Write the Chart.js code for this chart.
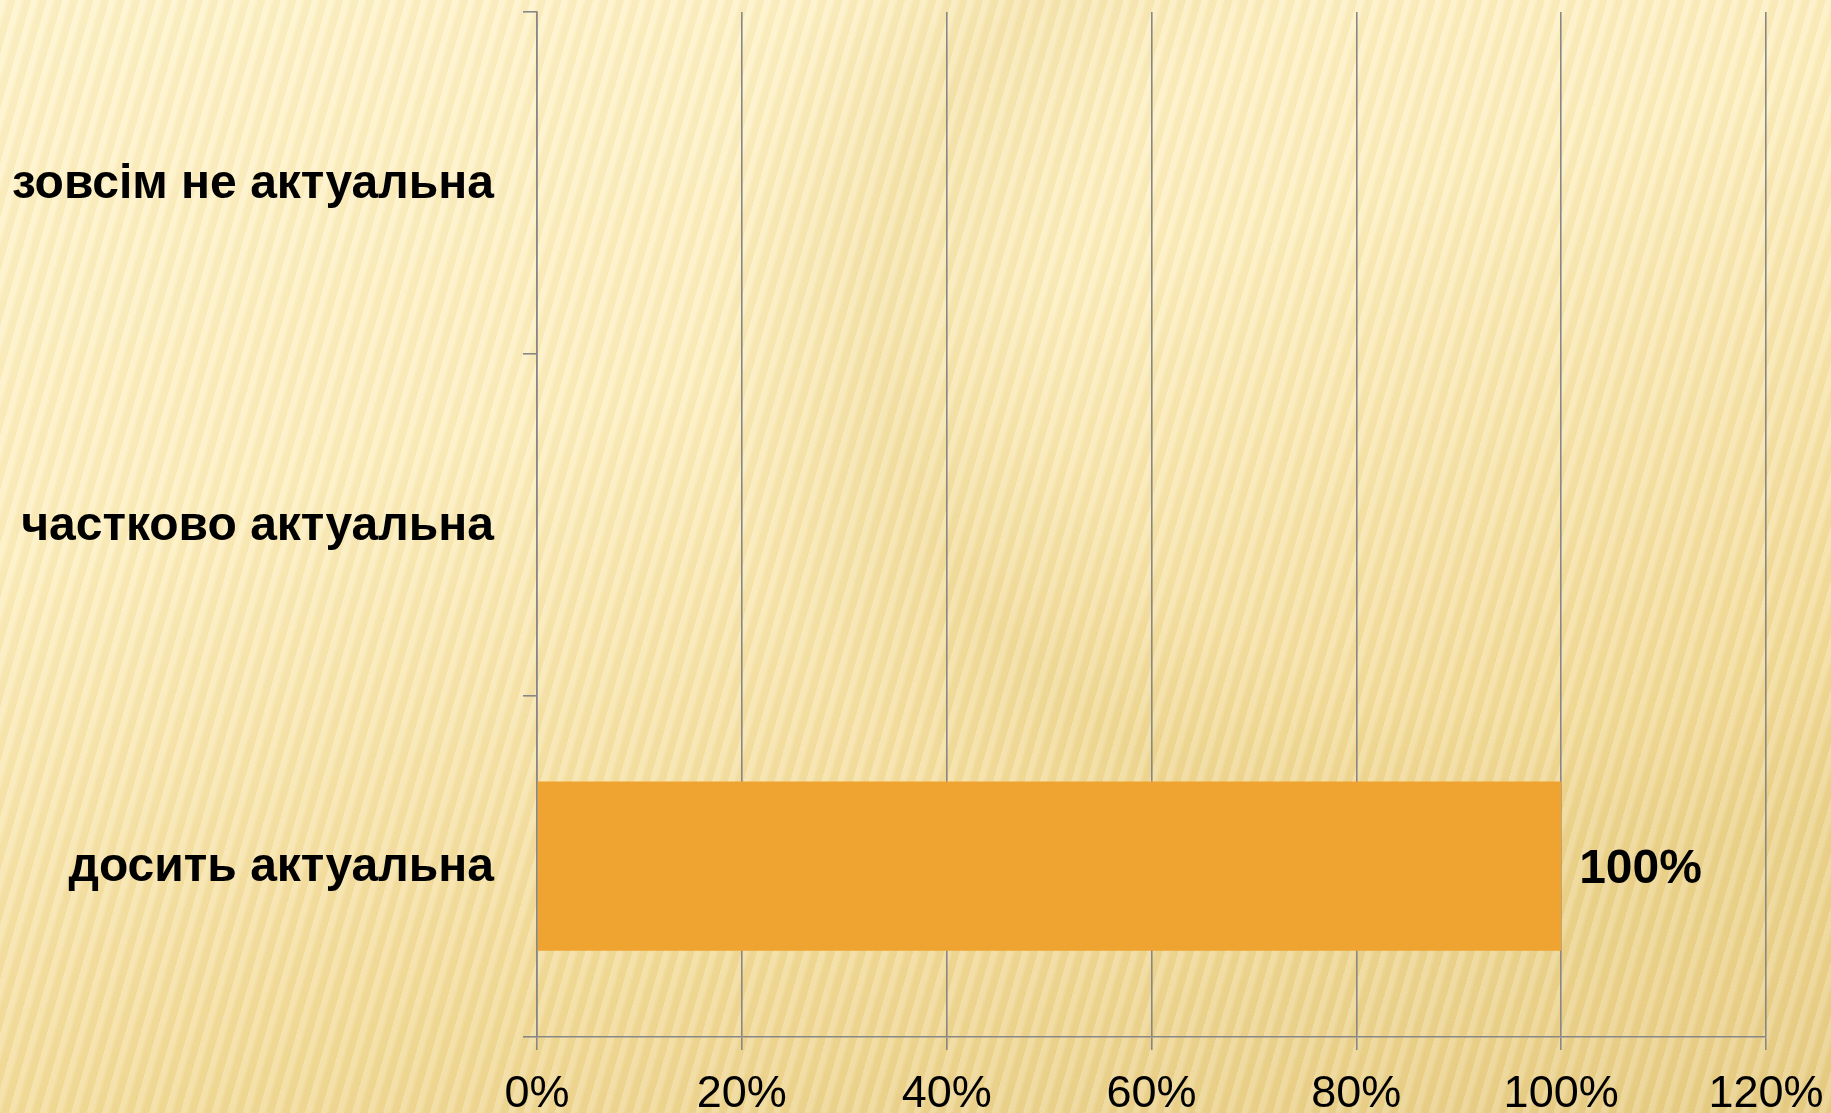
<!DOCTYPE html>
<html>
<head>
<meta charset="utf-8">
<script src="https://cdn.jsdelivr.net/npm/chart.js@4.4.1/dist/chart.umd.min.js"></script>
<style>
  html, body { margin: 0; padding: 0; }
  body {
    width: 1831px; height: 1113px; overflow: hidden;
    background:
      repeating-linear-gradient(106deg, rgba(255,255,255,0.16) 0px, rgba(255,255,255,0.16) 5px, rgba(190,150,50,0.07) 9px, rgba(190,150,50,0.07) 15px),
      radial-gradient(ellipse 900px 700px at 85% 30%, rgba(255,248,215,0.0) 55%, rgba(230,205,130,0.30) 75%, rgba(255,248,215,0) 95%),
      linear-gradient(165deg, #FEF3CA 0%, #FDEFC0 35%, #F3DC9B 70%, #E7CD86 100%);
  }
  #wrap { width: 1831px; height: 1113px; position: relative; }
</style>
</head>
<body>
<div id="wrap"><canvas id="myChart"></canvas></div>
<script>
// chart data
const categories = ['зовсім не актуальна', 'частково актуальна', 'досить актуальна'];
const values = [0, 0, 100];
const tickLabels = ['0%', '20%', '40%', '60%', '80%', '100%', '120%'];

const gridGray = '#878787';

// draws the "100%" next to each bar that has a value
const valueLabels = {
  id: 'valueLabels',
  afterDatasetsDraw(chart) {
    const ctx = chart.ctx;
    const meta = chart.getDatasetMeta(0);
    ctx.save();
    ctx.font = 'bold 48px "Liberation Sans", Arial, sans-serif';
    ctx.fillStyle = '#000';
    ctx.textBaseline = 'middle';
    meta.data.forEach((bar, i) => {
      if (!values[i]) return;
      ctx.fillText(values[i] + '%', bar.x + 18, bar.y + 4);
    });
    ctx.restore();
  }
};

const ctx = document.getElementById('myChart');
new Chart(ctx, {
  type: 'bar',
  data: {
    labels: categories,
    datasets: [{
      data: values,
      backgroundColor: '#EFA331',
      barPercentage: 0.495,
      categoryPercentage: 1
    }]
  },
  options: {
    indexAxis: 'y',
    responsive: true,
    maintainAspectRatio: false,
    animation: false,
    layout: { padding: { top: 12, right: 65, left: 0, bottom: 0 } },
    plugins: { legend: { display: false }, tooltip: { enabled: false } },
    scales: {
      x: {
        min: 0,
        max: 120,
        ticks: {
          stepSize: 20,
          color: '#000',
          padding: 18,
          font: { family: '"Liberation Sans", Arial, sans-serif', size: 45 },
          callback: (v, i) => tickLabels[i]
        },
        grid: { color: gridGray, lineWidth: 1.6, tickLength: 13 },
        border: { color: gridGray, width: 1.6 },
        afterFit: (s) => { s.height = 76; s.paddingLeft = 0; s.paddingRight = 0; }
      },
      y: {
        ticks: {
          color: '#000',
          padding: 29,
          labelOffset: 2,
          font: { family: '"Liberation Sans", Arial, sans-serif', size: 48, weight: 'bold' }
        },
        grid: { offset: true, drawOnChartArea: false, color: gridGray, lineWidth: 1.6, tickLength: 14 },
        border: { color: gridGray, width: 1.6 },
        afterFit: (s) => { s.width = 537; s.paddingTop = 0; s.paddingBottom = 0; }
      }
    }
  },
  plugins: [valueLabels]
});
</script>
</body>
</html>
